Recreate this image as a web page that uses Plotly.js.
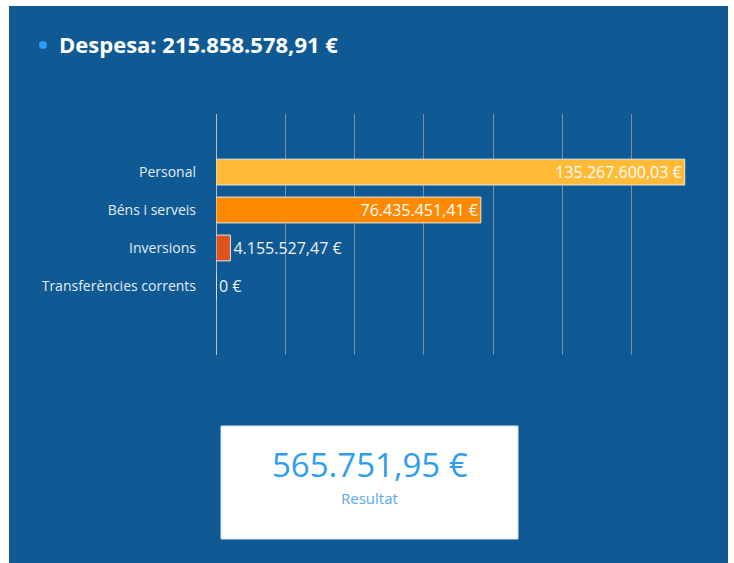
<!DOCTYPE html>
<html>
<head>
<meta charset="utf-8">
<script src="https://cdn.plot.ly/plotly-3.0.1.min.js"></script>
<style>
  html, body { margin: 0; padding: 0; background: #ffffff; width: 734px; height: 563px; overflow: hidden; }
  #chart { position: absolute; left: 9px; top: 6px; width: 719px; height: 557px; }
</style>
</head>
<body>
<div id="chart"></div>
<script>
const categories = ["Personal", "Béns i serveis", "Inversions", "Transferències corrents"];
const values = [135267600.03, 76435451.41, 4155527.47, 0];
const barColors = ["#FFBA38", "#FF8A00", "#DE531F", "#8B2C12"];
const totalLabel = "Despesa: 215.858.578,91 €";
const resultValue = "565.751,95 €";
const resultLabel = "Resultat";

function fmtEuro(v) {
  if (v === 0) return "0 €";
  const fixed = v.toFixed(2);
  let [intPart, dec] = fixed.split(".");
  intPart = intPart.replace(/\B(?=(\d{3})+(?!\d))/g, ".");
  return intPart + "," + dec + " €";
}

const texts = values.map(fmtEuro);
const positions = values.map(v => v > 30000000 ? "inside" : "outside");

const trace = {
  type: "bar",
  orientation: "h",
  y: categories,
  x: values,
  width: 0.68,
  marker: { color: barColors, line: { color: "#e6e6e6", width: 1 } },
  text: texts,
  textposition: positions,
  insidetextanchor: "end",
  textfont: { family: "Open Sans", size: 16, color: "#ffffff" },
  outsidetextfont: { family: "Open Sans", size: 16, color: "#f2f2f2" },
  insidetextfont: { family: "Open Sans", size: 16, color: "#ffffff" },
  constraintext: "none",
  cliponaxis: false,
  hoverinfo: "none"
};

const layout = {
  width: 719,
  height: 557,
  paper_bgcolor: "#0F5A94",
  plot_bgcolor: "#0F5A94",
  margin: { l: 207, r: 34, t: 108, b: 208 },
  showlegend: false,
  font: { family: "Open Sans", color: "#e8eef4" },
  title: {
    text: '<b>' + totalLabel + '</b>',
    x: 50 / 719, xref: "container", xanchor: "left",
    y: 1 - 39 / 557, yref: "container", yanchor: "middle",
    font: { family: "Open Sans", size: 22, color: "#ffffff" }
  },
  xaxis: {
    range: [0, 137950000],
    dtick: 20000000,
    tick0: 0,
    showticklabels: false,
    showgrid: true,
    gridcolor: "#7a8ea3",
    gridwidth: 1,
    zeroline: true,
    zerolinecolor: "#b9bfc6",
    zerolinewidth: 1,
    fixedrange: true
  },
  yaxis: {
    type: "category",
    range: [4.82, -1.53],
    showgrid: false,
    zeroline: false,
    ticks: "",
    ticklabelstandoff: 19,
    tickfont: { family: "Open Sans", size: 14, color: "#e3ebf2" },
    fixedrange: true
  },
  shapes: [
    {
      type: "circle", xref: "paper", yref: "paper",
      xsizemode: "pixel", ysizemode: "pixel",
      xanchor: (34 - 207) / 478, yanchor: (349 - 39) / 241,
      x0: -4, x1: 4, y0: -4, y1: 4,
      fillcolor: "#2E9CF2", line: { width: 0 }
    },
    {
      type: "rect", xref: "paper", yref: "paper",
      x0: (212 - 207) / 478, x1: (509 - 207) / 478,
      y0: (349 - 533) / 241, y1: (349 - 420) / 241,
      fillcolor: "#ffffff", line: { color: "#d8e4ef", width: 1 }, layer: "above"
    }
  ],
  annotations: [
    {
      xref: "paper", yref: "paper",
      x: (360.5 - 207) / 478, y: (349 - 458) / 241,
      text: resultValue, showarrow: false,
      xanchor: "center", yanchor: "middle",
      font: { family: "Open Sans", size: 33, color: "#2E9CF2" }
    },
    {
      xref: "paper", yref: "paper",
      x: (360.5 - 207) / 478, y: (349 - 492) / 241,
      text: resultLabel, showarrow: false,
      xanchor: "center", yanchor: "middle",
      font: { family: "Open Sans", size: 15, color: "#5AA8F0" }
    }
  ]
};

Plotly.newPlot("chart", [trace], layout, { displayModeBar: false, staticPlot: true });
</script>
</body>
</html>
